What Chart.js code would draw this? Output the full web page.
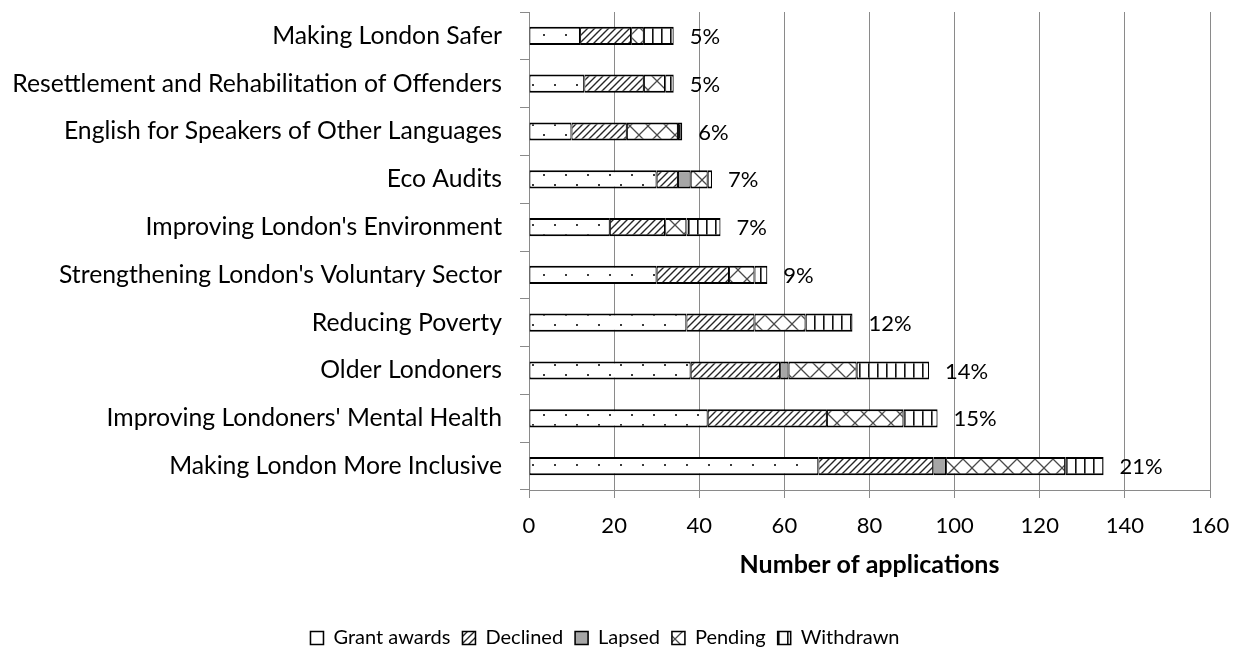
<!DOCTYPE html>
<html>
<head>
<meta charset="utf-8">
<script src="https://cdn.jsdelivr.net/npm/chart.js@4.4.0/dist/chart.umd.min.js"></script>
<style>
  html, body { margin: 0; padding: 0; background: #fff; }
  canvas { display: block; }
</style>
</head>
<body>
<canvas id="c" width="1241" height="651"></canvas>
<script>
// Applications per funding programme, split by outcome
const categories = [
  "Making London Safer",
  "Resettlement and Rehabilitation of Offenders",
  "English for Speakers of Other Languages",
  "Eco Audits",
  "Improving London's Environment",
  "Strengthening London's Voluntary Sector",
  "Reducing Poverty",
  "Older Londoners",
  "Improving Londoners' Mental Health",
  "Making London More Inclusive"
];
const grantAwards = [12, 13, 10, 30, 19, 30, 37, 38, 42, 68];
const declined    = [12, 14, 13,  5, 13, 17, 16, 21, 28, 27];
const lapsed      = [ 0,  0,  0,  3,  0,  0,  0,  2,  0,  3];
const pending     = [ 3,  5, 12,  4,  5,  6, 12, 16, 18, 28];
const withdrawn   = [ 7,  2,  1,  1,  8,  3, 11, 17,  8,  9];
const xTickValues = [0, 20, 40, 60, 80, 100, 120, 140, 160];

const FONT = 'Lato, "Open Sans", sans-serif';
const canvas = document.getElementById('c');
const ctx = canvas.getContext('2d');

// Small repeating tiles used as hatch fills
function tile(w, h, draw) {
  const t = document.createElement('canvas');
  t.width = w; t.height = h;
  const g = t.getContext('2d');
  g.fillStyle = '#ffffff';
  g.fillRect(0, 0, w, h);
  draw(g);
  return ctx.createPattern(t, 'repeat');
}
const dotFill = tile(22, 20, g => {
  g.fillStyle = '#3a3a3a';
  g.fillRect(4, 4, 2, 2);
  g.fillRect(15, 14, 2, 2);
});
const stripeFill = tile(7, 7, g => {
  g.strokeStyle = '#262626';
  g.lineWidth = 1.4;
  g.beginPath();
  g.moveTo(-1, 8); g.lineTo(8, -1);
  g.moveTo(-1, 1); g.lineTo(1, -1);
  g.moveTo(6, 8); g.lineTo(8, 6);
  g.stroke();
});
const crossFill = tile(18, 18, g => {
  g.strokeStyle = '#4a4a4a';
  g.lineWidth = 1.3;
  g.beginPath();
  g.moveTo(-2, -2); g.lineTo(20, 20);
  g.moveTo(-2, 20); g.lineTo(20, -2);
  g.moveTo(-2, 2); g.lineTo(2, -2);
  g.moveTo(16, 20); g.lineTo(20, 16);
  g.moveTo(16, -2); g.lineTo(20, 2);
  g.moveTo(-2, 16); g.lineTo(2, 20);
  g.stroke();
});
const verticalFill = tile(9, 4, g => {
  g.fillStyle = '#111111';
  g.fillRect(4, 0, 1.6, 4);
});

const segmentStyle = {
  borderColor: '#000000',
  borderWidth: { top: 2, bottom: 2, left: 1, right: 1.2 },
  borderSkipped: false,
  barPercentage: 0.38,
  categoryPercentage: 1
};

// Share of all applications, written beyond the end of each bar
const shareLabels = {
  id: 'shareLabels',
  afterDatasetsDraw(chart) {
    const xs = chart.scales.x, ys = chart.scales.y;
    const totals = categories.map((_, i) =>
      grantAwards[i] + declined[i] + lapsed[i] + pending[i] + withdrawn[i]);
    const all = totals.reduce((a, b) => a + b, 0);
    const c = chart.ctx;
    c.save();
    c.font = '22px ' + FONT;
    c.fillStyle = '#000';
    c.textAlign = 'left';
    c.textBaseline = 'middle';
    totals.forEach((t, i) => {
      const pct = Math.round(t / all * 100);
      c.fillText(pct + '%', xs.getPixelForValue(t) + 16, ys.getPixelForValue(i) + 1);
    });
    c.restore();
  }
};

new Chart(ctx, {
  type: 'bar',
  data: {
    labels: categories,
    datasets: [
      { label: 'Grant awards', data: grantAwards, backgroundColor: dotFill, ...segmentStyle },
      { label: 'Declined', data: declined, backgroundColor: stripeFill, ...segmentStyle },
      { label: 'Lapsed', data: lapsed, backgroundColor: '#a6a6a6', ...segmentStyle },
      { label: 'Pending', data: pending, backgroundColor: crossFill, ...segmentStyle },
      { label: 'Withdrawn', data: withdrawn, backgroundColor: verticalFill, ...segmentStyle }
    ]
  },
  options: {
    indexAxis: 'y',
    responsive: false,
    animation: false,
    devicePixelRatio: 1,
    layout: { padding: { top: 12, right: 31, left: 0, bottom: -7 } },
    scales: {
      x: {
        stacked: true,
        min: 0,
        max: 160,
        afterBuildTicks: s => { s.ticks = xTickValues.map(v => ({ value: v })); },
        afterFit: s => { s.height = 126; s.paddingLeft = 0; s.paddingRight = 0; },
        ticks: { color: '#000', font: { family: FONT, size: 22 }, padding: 15, maxRotation: 0 },
        grid: { color: '#8a8a8a', lineWidth: 1, tickLength: 8 },
        border: { color: '#8a8a8a', width: 1 },
        title: {
          display: true,
          text: 'Number of applications',
          color: '#000',
          font: { family: FONT, size: 25, weight: 'bold' },
          padding: { top: 0, bottom: 36 }
        }
      },
      y: {
        stacked: true,
        afterFit: s => { s.width = 529; s.paddingTop = 0; s.paddingBottom = 0; },
        ticks: { color: '#000', font: { family: FONT, size: 24.75 }, padding: 18 },
        grid: { drawOnChartArea: false, drawTicks: true, tickLength: 9, color: '#8a8a8a', offset: true },
        border: { color: '#8a8a8a', width: 1 }
      }
    },
    plugins: {
      legend: {
        position: 'bottom',
        labels: {
          color: '#000',
          font: { family: FONT, size: 20 },
          boxWidth: 13,
          boxHeight: 13,
          padding: 12
        }
      },
      tooltip: { enabled: false }
    }
  },
  plugins: [shareLabels]
});
</script>
</body>
</html>
